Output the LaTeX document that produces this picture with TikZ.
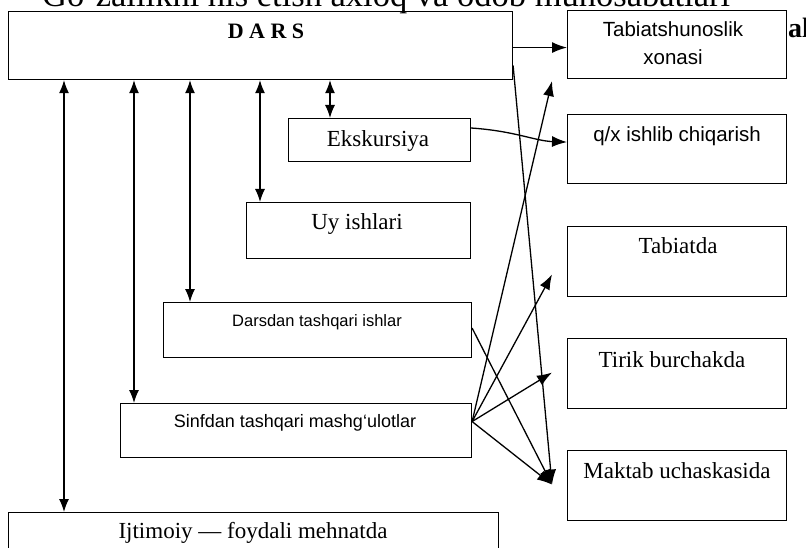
\documentclass[tikz,border=0pt]{standalone}
\usepackage{fontspec}
\setmainfont{Liberation Serif}
\newfontfamily\sansf{Liberation Sans}
\usetikzlibrary{arrows.meta,calc}
\begin{document}
\begin{tikzpicture}[x=1pt,y=-1pt,
  box/.style={draw,line width=1.1pt,inner sep=0pt,anchor=north west},
  conn/.style={line width=1.3pt},
  tip/.style={conn,-{Latex[length=15pt,width=11pt]}},
  both/.style={conn,{Latex[length=13pt,width=10pt]}-{Latex[length=13pt,width=10pt]}},
  txt/.style={anchor=base,inner sep=0pt},
  serif/.style={txt,font=\fontsize{23}{27}\selectfont},
  sans/.style={txt,font=\sansf\fontsize{20.5}{25}\selectfont}
]
\useasboundingbox (0,0) rectangle (806,548);
\clip (0,0) rectangle (806,548);
\fill[white] (0,0) rectangle (806,548);

% stray scanned text
\node[anchor=base west,inner sep=0pt,font=\fontsize{34.5}{40}\selectfont] (head) at (42,7) {Go'zallikni his etish axloq va odob munosabatlari};
\node[anchor=base west,inner sep=0pt,font=\bfseries\fontsize{28}{32}\selectfont] (al) at (788,38) {al};

% boxes
\node[box,minimum width=504pt,minimum height=68pt] (dars) at (8,11) {};
\node[box,minimum width=219pt,minimum height=68pt] (tab1) at (567,10) {};
\node[box,minimum width=219pt,minimum height=69pt] (qx) at (567,114) {};
\node[box,minimum width=219pt,minimum height=70pt] (tabd) at (567,226) {};
\node[box,minimum width=219pt,minimum height=70pt] (tirik) at (567,338) {};
\node[box,minimum width=219pt,minimum height=70pt] (mak) at (567,450) {};
\node[box,minimum width=182pt,minimum height=43pt] (eks) at (288,118) {};
\node[box,minimum width=224pt,minimum height=56pt] (uy) at (246,202) {};
\node[box,minimum width=308pt,minimum height=55pt] (dts) at (163,302) {};
\node[box,minimum width=351pt,minimum height=54pt] (sinf) at (120,403) {};
\node[box,minimum width=490pt,minimum height=60pt] (ijt) at (8,512) {};

% texts
\node[txt,font=\bfseries\fontsize{22}{26}\selectfont] (darst) at (266,39) {D A R S};
\node[sans] (tab1a) at (673,37) {Tabiatshunoslik};
\node[sans] (tab1b) at (673,65) {xonasi};
\node[sans] (qxt) at (677,142) {q/x ishlib chiqarish};
\node[serif] (tabdt) at (678,254) {Tabiatda};
\node[serif] (tirikt) at (672,367) {Tirik burchakda};
\node[serif] (makt) at (677,478) {Maktab uchaskasida};
\node[serif] (ekst) at (378,147) {Ekskursiya};
\node[serif] (uyt) at (357,230) {Uy ishlari};
\node[txt,font=\sansf\fontsize{16.5}{20}\selectfont] (dtst) at (317,326) {Darsdan tashqari ishlar};
\node[txt,font=\sansf\fontsize{18}{22}\selectfont] (sinft) at (295,427) {Sinfdan tashqari mashg‘ulotlar};
\node[serif] (ijtt) at (253,538) {Ijtimoiy — foydali mehnatda};

% connector points
\coordinate (v1) at ($(ijt.north west)+(56,0)$);
\coordinate (v2) at ($(sinf.north west)+(14,0)$);
\coordinate (v3) at ($(dts.north west)+(27,0)$);
\coordinate (v4) at ($(uy.north west)+(14,0)$);
\coordinate (v5) at ($(eks.north west)+(42,0)$);
\coordinate (dA) at ($(dars.east)+(0,2)$);
\coordinate (dB) at ($(dars.east)+(0,20)$);
\coordinate (eO) at ($(eks.north east)+(0,10)$);
\coordinate (qI) at ($(qx.west)+(0,-7)$);
\coordinate (dO) at ($(dts.east)+(0,-2)$);
\coordinate (sO) at ($(sinf.east)+(0,-9)$);
\coordinate (tipT) at ($(tab1.south west)+(-15,2)$);
\coordinate (tipD) at ($(tabd.west)+(-15,13)$);
\coordinate (tipR) at ($(tirik.west)+(-15,-1)$);
\coordinate (tipM) at ($(mak.west)+(-15,-1)$);

% connectors
\draw[both] (v1 |- dars.south) -- (v1);
\draw[both] (v2 |- dars.south) -- (v2);
\draw[both] (v3 |- dars.south) -- (v3);
\draw[both] (v4 |- dars.south) -- (v4);
\draw[both] (v5 |- dars.south) -- (v5);
\draw[tip] (dA) -- (dA -| tab1.west);
\draw[tip] (dB) -- (tipM);
\draw[tip] (eO) .. controls (515,131) and (535,141) .. (qI);
\draw[tip] (dO) -- (tipM);
\draw[tip] (sO) -- (tipT);
\draw[tip] (sO) -- (tipD);
\draw[tip] (sO) -- (tipR);
\draw[tip] (sO) -- (tipM);
\end{tikzpicture}
\end{document}
